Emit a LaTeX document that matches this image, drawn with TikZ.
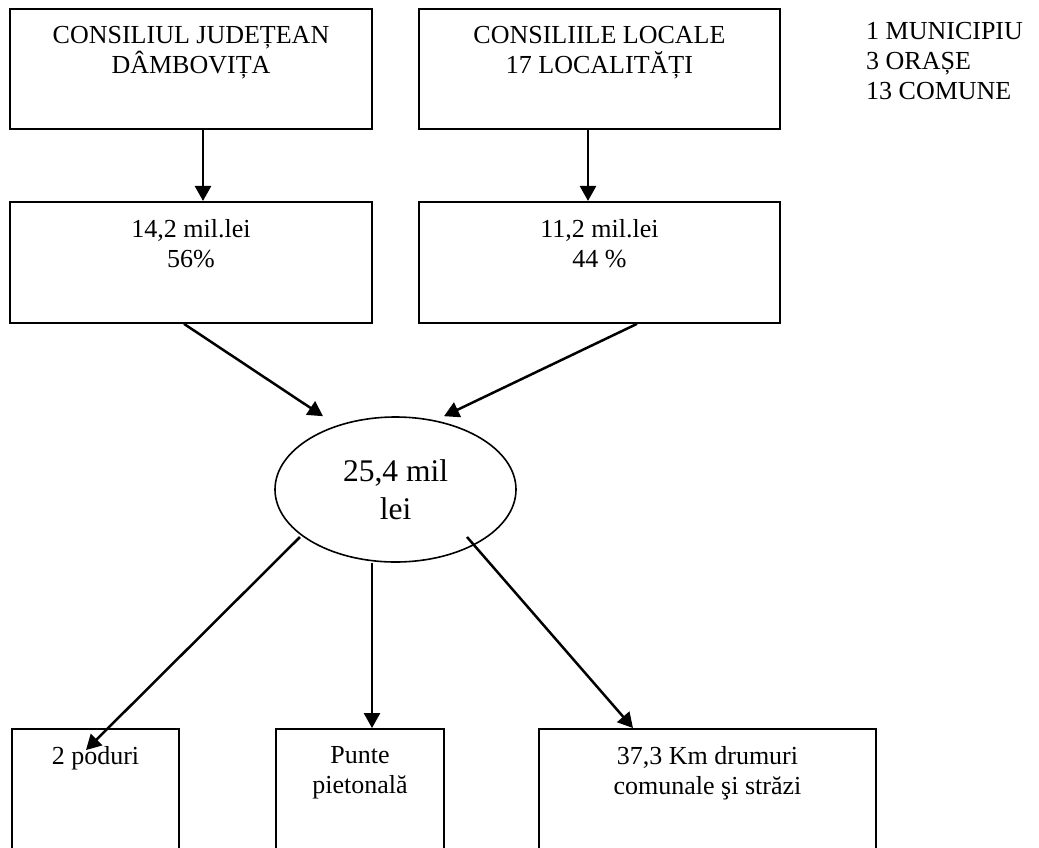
\documentclass[tikz,border=0pt]{standalone}
\usepackage{fontspec}
\setmainfont{Liberation Serif}
\usetikzlibrary{positioning, arrows.meta, shapes.geometric}

\begin{document}
\begin{tikzpicture}[
    x=1pt, y=-1pt,
    box/.style={
      rectangle,
      draw=black,
      line width=1.9pt,
      inner sep=0pt
    },
    boxtext/.style={
      font=\fontsize{26}{30}\selectfont,
      align=center,
      inner sep=0pt
    },
    arrow/.style={-{Triangle[length=15pt,width=16pt]}, line width=2.5pt, draw=black},
    node distance=71pt
  ]
    \useasboundingbox (0,0) rectangle (1039,847);

    % consilii
    \node[box, minimum width=362pt, minimum height=120pt] (judet) at (191,69) {};
    \node[box, minimum width=361pt, minimum height=120pt] (local) at (599.5,69) {};
    \node[boxtext, below=18pt of judet.north] (judett) {CONSILIUL JUDEȚEAN\\DÂMBOVIȚA};
    \node[boxtext, below=18pt of local.north] (localt) {CONSILIILE LOCALE\\17 LOCALITĂȚI};
    \node[boxtext, align=left, anchor=north west] (stat) at (866,22) {1 MUNICIPIU\\3 ORAȘE\\13 COMUNE};

    % sume
    \node[box, minimum width=362pt, minimum height=121pt, below=of judet] (bjudet) {};
    \node[box, minimum width=361pt, minimum height=121pt, below=of local] (blocal) {};
    \node[boxtext, below=18pt of bjudet.north] (bjudett) {14,2 mil.lei\\56\%};
    \node[boxtext, below=18pt of blocal.north] (blocalt) {11,2 mil.lei\\44 \%};

    \node[ellipse, draw=black, line width=1.6pt, minimum width=241pt, minimum height=145pt,
      inner sep=0pt, align=center, font=\fontsize{31.5}{38}\selectfont] (suma) at (395.5,489.5) {25,4 mil\\lei};

    % obiective
    \node[box, minimum width=167pt, minimum height=150pt] (poduri) at (95.5,804) {};
    \node[box, minimum width=168pt, minimum height=150pt] (punte) at (360,804) {};
    \node[box, minimum width=337pt, minimum height=150pt] (drumuri) at (707.5,804) {};
    \node[boxtext, below=18pt of poduri.north] (podurit) {2 poduri};
    \node[boxtext, below=18pt of punte.north] (puntet) {Punte\\pietonală};
    \node[boxtext, below=18pt of drumuri.north] (drumurit) {37,3 Km drumuri\\comunale şi străzi};

    \draw[arrow] ([xshift=12pt]judet.south) -- ([xshift=12pt]bjudet.north);
    \draw[arrow] ([xshift=-11.5pt]local.south) -- ([xshift=-11.5pt]blocal.north);
    \draw[arrow] ([xshift=-7pt]bjudet.south) -- ([xshift=-72.5pt]suma.north);
    \draw[arrow] ([xshift=37.5pt]blocal.south) -- ([xshift=48.5pt]suma.north);
    \draw[arrow] ([xshift=-95.5pt,yshift=-47.5pt]suma.center) -- ([xshift=-9.5pt,yshift=-22pt]poduri.north);
    \draw[arrow] ([xshift=-23.5pt]suma.south) -- ([xshift=12pt]punte.north);
    \draw[arrow] ([xshift=71.5pt,yshift=-47.5pt]suma.center) -- ([xshift=-74.5pt]drumuri.north);
  \end{tikzpicture}
\end{document}
